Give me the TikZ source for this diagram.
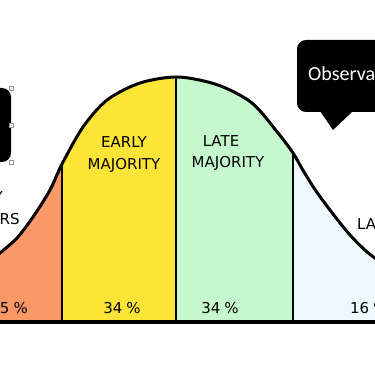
\documentclass[tikz,border=0pt]{standalone}
\usepackage{fontspec}
\newfontfamily\handfont{DejaVu Sans}
\newfontfamily\calfont{Carlito}
\definecolor{earlyAd}{RGB}{250,152,104}
\definecolor{earlyMaj}{RGB}{255,228,56}
\definecolor{lateMaj}{RGB}{198,248,206}
\definecolor{lagg}{RGB}{238,249,255}
\definecolor{handlegray}{RGB}{150,150,150}
\tikzset{
  lbl/.style={inner sep=0pt, font=\handfont\fontsize{15}{15}\selectfont, text=black},
  bellline/.style={line width=3pt, line join=round, line cap=round},
  baseline/.style={line width=4pt},
  divider/.style={line width=1.3pt},
  callout/.style={fill=black, rounded corners=9pt},
  handle/.style={draw=handlegray, fill=white, line width=0.5pt, minimum size=4pt, inner sep=0pt}
}
\begin{document}
\begin{tikzpicture}[x=1pt,y=-1pt]
\useasboundingbox (0,0) rectangle (375,366);
\clip (0,0) rectangle (375,366);
\fill[white] (0,0) rectangle (375,366);
% areas under the bell curve
\begin{scope}
\clip plot[smooth] coordinates {(-8,260) (0,253) (17,238) (33,217) (50,190) (62,164) (83,127) (107,100) (140,83) (178,77) (218,85) (252,103) (278,133) (293,153) (304,172) (316,191) (333,214) (350,235) (366,251) (384,265)} -- (384,322) -- (-8,322) -- cycle;
\fill[earlyAd] (-8,0) rectangle (62,330);
\fill[earlyMaj] (62,0) rectangle (176,330);
\fill[lateMaj] (176,0) rectangle (293,330);
\fill[lagg] (293,0) rectangle (384,330);
\coordinate (d1t) at (62,60); \coordinate (d1b) at (62,322);
\coordinate (d2t) at (176,60); \coordinate (d2b) at (176,322);
\coordinate (d3t) at (293,60); \coordinate (d3b) at (293,322);
\draw[divider] (d1t) -- (d1b);
\draw[divider] (d2t) -- (d2b);
\draw[divider] (d3t) -- (d3b);
\end{scope}
\draw[bellline] plot[smooth] coordinates {(-8,260) (0,253) (17,238) (33,217) (50,190) (62,164) (83,127) (107,100) (140,83) (178,77) (218,85) (252,103) (278,133) (293,153) (304,172) (316,191) (333,214) (350,235) (366,251) (384,265)};
\coordinate (bl) at (-8,322);
\coordinate (br) at (384,322);
\draw[baseline] (bl) -- (br);
% labels
\node[lbl, anchor=base] (ea1) at (124,148) {EARLY};
\node[lbl, anchor=base] (ea2) at (124,170) {MAJORITY};
\node[lbl, anchor=base] (la1) at (221,147) {LATE};
\node[lbl, anchor=base] (la2) at (228,168) {MAJORITY};
\node[lbl, anchor=base] (ad1) at (-20,203) {EARLY};
\node[lbl, anchor=base] (ad2) at (-21,225) {ADOPTERS};
\node[lbl, anchor=base west] (lg) at (357,230) {LAGGARDS};
\node[lbl, anchor=base east] (p1) at (28,313) {13.5\hspace{4pt}\%};
\node[lbl, anchor=base] (p2) at (122,313) {34\hspace{4pt}\%};
\node[lbl, anchor=base] (p3) at (220,313) {34\hspace{4pt}\%};
\node[lbl, anchor=base west] (p4) at (350,313) {16\hspace{4pt}\%};
% callouts
\fill[callout] (297,40) rectangle (400,112);
\coordinate (tl) at (320,111); \coordinate (tr) at (353,111); \coordinate (tp) at (333,130);
\fill[black] (tl) -- (tp) -- (tr) -- cycle;
\node[inner sep=0pt, anchor=base west, text=white, font=\calfont\fontsize{20}{20}\selectfont] (obs) at (308,81) {Observation};
\fill[callout] (-40,88) rectangle (11,162);
\node[handle] (h1) at (11,88) {};
\node[handle] (h2) at (11,125) {};
\node[handle] (h3) at (11,162) {};
\end{tikzpicture}
\end{document}
